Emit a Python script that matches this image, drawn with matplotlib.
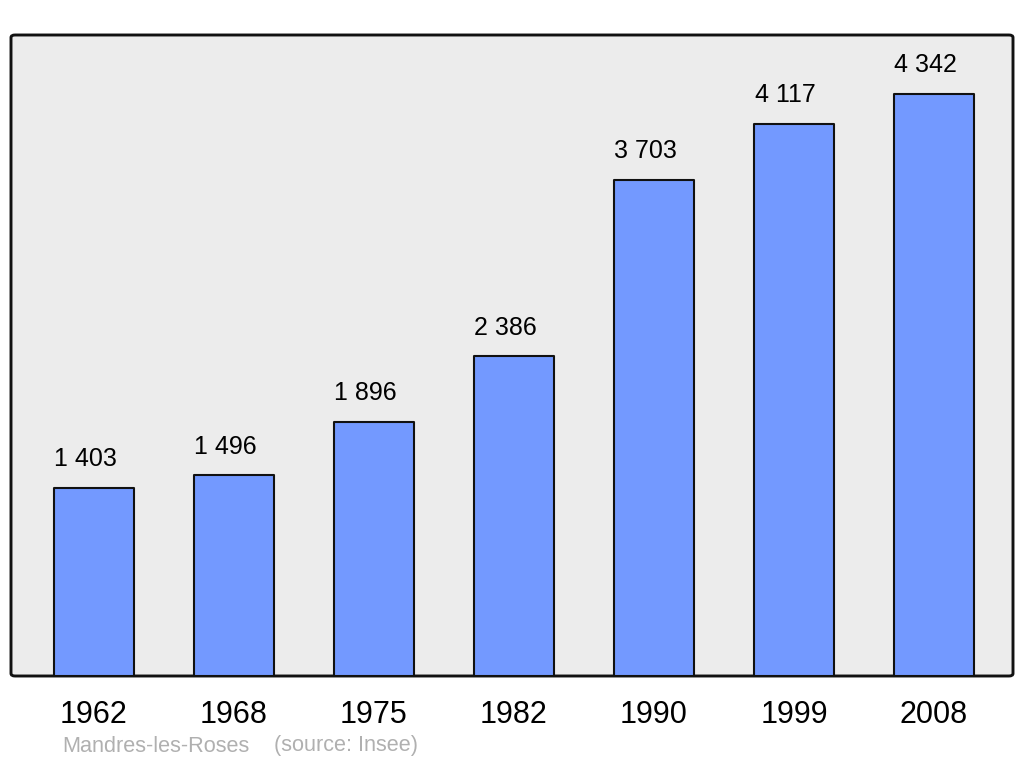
import matplotlib
matplotlib.use("Agg")
import matplotlib.pyplot as plt
from matplotlib.patches import FancyBboxPatch

years = ["1962", "1968", "1975", "1982", "1990", "1999", "2008"]
population = [1403, 1496, 1896, 2386, 3703, 4117, 4342]
value_labels = ["1 403", "1 496", "1 896", "2 386", "3 703", "4 117", "4 342"]
commune = "Mandres-les-Roses"
source = "(source: Insee)"

plt.rcParams['font.family'] = ['Liberation Sans', 'DejaVu Sans']

W, H = 1024, 765
fig = plt.figure(figsize=(W / 100, H / 100), dpi=100)
ax = fig.add_axes([11 / W, (H - 676) / H, 1002 / W, 641 / H])
ax.set_facecolor('none')
for s in ax.spines.values():
    s.set_visible(False)

# rounded background frame
frame = FancyBboxPatch((0, 0), 1, 1, boxstyle="round,pad=0,rounding_size=0.004",
                       transform=ax.transAxes, facecolor='#ececec', edgecolor='#111111',
                       linewidth=2.1, zorder=0, clip_on=False)
ax.add_patch(frame)

x = list(range(len(years)))
bars = ax.bar(x, population, width=80 / 140, color='#7399ff', edgecolor='#111111',
              linewidth=1.5, zorder=2)
for b in bars:
    b.set_joinstyle('round')

ax.set_xlim(-83 / 140, 6 + 79 / 140)
ax.set_ylim(0, 641 * 4342 / 582)

for xi, v, lab in zip(x, population, value_labels):
    ax.annotate(lab, (xi, v), xytext=(-6, 12), textcoords='offset points',
                ha='center', va='bottom', fontsize=18, color='black')

ax.set_xticks(x)
ax.set_xticklabels(years, fontsize=22)
ax.tick_params(axis='x', length=0, pad=17)
ax.set_yticks([])

fig.text(62 / W, 1 - 746 / H, commune, fontsize=15.6, color='#b0b0b0', ha='left', va='center')
fig.text(274 / W, 1 - 746 / H, source, fontsize=15.6, color='#b0b0b0', ha='left', va='center')

fig.savefig("out.png", dpi=100)
